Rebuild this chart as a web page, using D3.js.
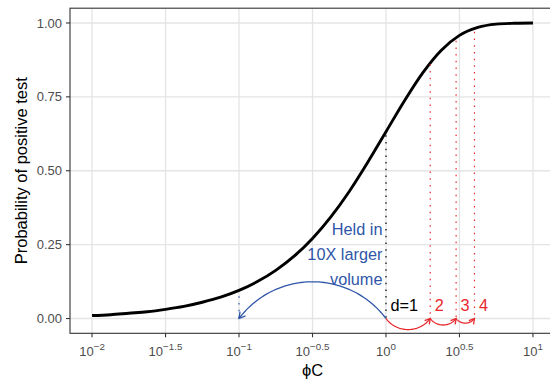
<!DOCTYPE html>
<html>
<head>
<meta charset="utf-8">
<script src="https://cdn.jsdelivr.net/npm/d3@7"></script>
<style>
  body { margin: 0; background: #fff; }
  svg { display: block; font-family: "Liberation Sans", Arial, Helvetica, sans-serif; }
</style>
</head>
<body>
<div id="chart"></div>
<script>
// log10(phi*C) positions along the curve, and the probability
const curveLogX = [-2, -1.875, -1.75, -1.625, -1.5, -1.375, -1.25, -1.125, -1, -0.875, -0.75, -0.625,
  -0.5, -0.375, -0.25, -0.125, 0, 0.125, 0.25, 0.375, 0.5, 0.625, 0.75, 0.875, 1];
const curveProb = [0.010, 0.013, 0.018, 0.023, 0.031, 0.041, 0.055, 0.072, 0.095, 0.125, 0.163, 0.211,
  0.271, 0.344, 0.430, 0.528, 0.632, 0.736, 0.831, 0.907, 0.958, 0.985, 0.996, 0.999, 1.0];

// dilution steps (phi*C) and the height of their dotted guides
const dilutions = [1, 2, 3, 4];
const dilutionTops = [0.62, 0.86, 0.94, 0.97];
const dilutionLabels = ["d=1", "2", "3", "4"];

// larger-volume move
const volumeFrom = 1;
const volumeTo = 0.1;
const volumeTop = 0.075;
const volumeLabel = ["Held in", "10X larger", "volume"];

const xTickExp = [-2, -1.5, -1, -0.5, 0, 0.5, 1];
const yTicks = [0, 0.25, 0.5, 0.75, 1];

const width = 550, height = 379;
const panel = { left: 70, right: 555, top: 8.2, bottom: 333.3 };
const blue = "#2f56a8";
const red = "#e8282d";

const svg = d3.select("#chart").append("svg")
  .attr("width", width)
  .attr("height", height);

const x = d3.scaleLog()
  .domain([Math.pow(10, -2.15), Math.pow(10, 1.15)])
  .range([panel.left, panel.right]);

const y = d3.scaleLinear()
  .domain([-0.05, 1.05])
  .range([panel.bottom, panel.top]);

// grid
const grid = svg.append("g");
grid.selectAll(".gx")
  .data(xTickExp)
  .enter().append("line")
  .attr("x1", d => x(Math.pow(10, d))).attr("x2", d => x(Math.pow(10, d)))
  .attr("y1", panel.top).attr("y2", panel.bottom)
  .attr("stroke", "#e4e4e4").attr("stroke-width", 1.3);
grid.selectAll(".gy")
  .data(yTicks)
  .enter().append("line")
  .attr("x1", panel.left).attr("x2", panel.right)
  .attr("y1", d => y(d)).attr("y2", d => y(d))
  .attr("stroke", "#e4e4e4").attr("stroke-width", 1.3);

// main curve
const curveData = curveLogX.map((lx, i) => ({ v: Math.pow(10, lx), p: curveProb[i] }));
svg.append("path")
  .datum(curveData)
  .attr("fill", "none")
  .attr("stroke", "#000")
  .attr("stroke-width", 2.9)
  .attr("d", d3.line().x(d => x(d.v)).y(d => y(d.p)).curve(d3.curveMonotoneX));

// dotted guides
const dots = "1.5,5.2";
svg.append("line")
  .attr("x1", x(volumeTo)).attr("x2", x(volumeTo))
  .attr("y1", y(volumeTop)).attr("y2", y(0))
  .attr("stroke", blue).attr("stroke-width", 1.2).attr("stroke-dasharray", dots);

svg.selectAll(".dil")
  .data(dilutions)
  .enter().append("line")
  .attr("x1", d => x(d)).attr("x2", d => x(d))
  .attr("y1", (d, i) => y(dilutionTops[i])).attr("y2", y(0))
  .attr("stroke", (d, i) => i === 0 ? "#000" : red)
  .attr("stroke-width", 1.2)
  .attr("stroke-dasharray", dots);

// curved arrows (circular arcs)
function arcPoints(v1, v2, bulgeUp) {
  const p1 = [x(v1), y(0)], p2 = [x(v2), y(0)];
  const c = Math.abs(p2[0] - p1[0]);
  const s = c * 0.25;
  const r = (c * c / 4 + s * s) / (2 * s);
  const cx = (p1[0] + p2[0]) / 2;
  const cy = bulgeUp ? p1[1] + (r - s) : p1[1] - (r - s);
  const a1 = Math.atan2(p1[1] - cy, p1[0] - cx);
  let da = Math.atan2(p2[1] - cy, p2[0] - cx) - a1;
  while (da > Math.PI) da -= 2 * Math.PI;
  while (da < -Math.PI) da += 2 * Math.PI;
  return d3.range(61).map(i => [cx + r * Math.cos(a1 + da * i / 60), cy + r * Math.sin(a1 + da * i / 60)]);
}

function drawArrow(v1, v2, bulgeUp, color, headLen) {
  const pts = arcPoints(v1, v2, bulgeUp);
  svg.append("path")
    .attr("d", d3.line()(pts))
    .attr("fill", "none").attr("stroke", color).attr("stroke-width", 1.3);
  const tip = pts[pts.length - 1], prev = pts[pts.length - 3];
  const ang = Math.atan2(tip[1] - prev[1], tip[0] - prev[0]);
  const wing = a => [tip[0] - headLen * Math.cos(ang + a), tip[1] - headLen * Math.sin(ang + a)];
  svg.append("path")
    .attr("d", d3.line()([wing(Math.PI / 6), tip, wing(-Math.PI / 6)]))
    .attr("fill", "none").attr("stroke", color).attr("stroke-width", 1.3)
    .attr("stroke-linejoin", "miter");
}

drawArrow(volumeFrom, volumeTo, true, blue, 7);
for (let i = 0; i < dilutions.length - 1; i++) {
  drawArrow(dilutions[i], dilutions[i + 1], false, red, 6);
}

// annotations
svg.append("text")
  .attr("text-anchor", "end")
  .attr("fill", blue)
  .style("font-size", "16.3px")
  .selectAll("tspan")
  .data(volumeLabel)
  .enter().append("tspan")
  .attr("x", x(volumeFrom) - 3.5)
  .attr("y", (d, i) => 234.5 + i * 25)
  .text(d => d);

svg.selectAll(".dlab")
  .data(dilutions)
  .enter().append("text")
  .attr("x", d => x(d) + 4.5)
  .attr("y", 311)
  .attr("fill", (d, i) => i === 0 ? "#000" : red)
  .style("font-size", "16.3px")
  .text((d, i) => dilutionLabels[i]);

// panel border
svg.append("rect")
  .attr("x", panel.left).attr("y", panel.top)
  .attr("width", panel.right - panel.left).attr("height", panel.bottom - panel.top)
  .attr("fill", "none").attr("stroke", "#333").attr("stroke-width", 1.1);

// axes
const xAxis = svg.append("g");
xAxis.selectAll("line")
  .data(xTickExp)
  .enter().append("line")
  .attr("x1", d => x(Math.pow(10, d))).attr("x2", d => x(Math.pow(10, d)))
  .attr("y1", panel.bottom).attr("y2", panel.bottom + 4)
  .attr("stroke", "#333").attr("stroke-width", 1.1);
const xLab = xAxis.selectAll("text")
  .data(xTickExp)
  .enter().append("text")
  .attr("x", d => x(Math.pow(10, d)))
  .attr("y", 356)
  .attr("text-anchor", "middle")
  .attr("fill", "#4d4d4d")
  .style("font-size", "13px");
xLab.append("tspan").text("10");
xLab.append("tspan")
  .attr("dy", -6)
  .style("font-size", "9.8px")
  .text(d => String(d).replace("-", "\u2212"));

const yAxis = svg.append("g");
yAxis.selectAll("line")
  .data(yTicks)
  .enter().append("line")
  .attr("x1", panel.left - 4).attr("x2", panel.left)
  .attr("y1", d => y(d)).attr("y2", d => y(d))
  .attr("stroke", "#333").attr("stroke-width", 1.1);
yAxis.selectAll("text")
  .data(yTicks)
  .enter().append("text")
  .attr("x", 62)
  .attr("y", d => y(d))
  .attr("dy", "0.35em")
  .attr("text-anchor", "end")
  .attr("fill", "#4d4d4d")
  .style("font-size", "13px")
  .text(d => d3.format(".2f")(d));

// titles
svg.append("text")
  .attr("x", (panel.left + panel.right) / 2)
  .attr("y", 375.7)
  .attr("text-anchor", "middle")
  .style("font-size", "16.5px")
  .text("\u03d5C");

svg.append("text")
  .attr("transform", `translate(26.5,${(panel.top + panel.bottom) / 2}) rotate(-90)`)
  .attr("text-anchor", "middle")
  .style("font-size", "16.5px")
  .text("Probability of positive test");
</script>
</body>
</html>
